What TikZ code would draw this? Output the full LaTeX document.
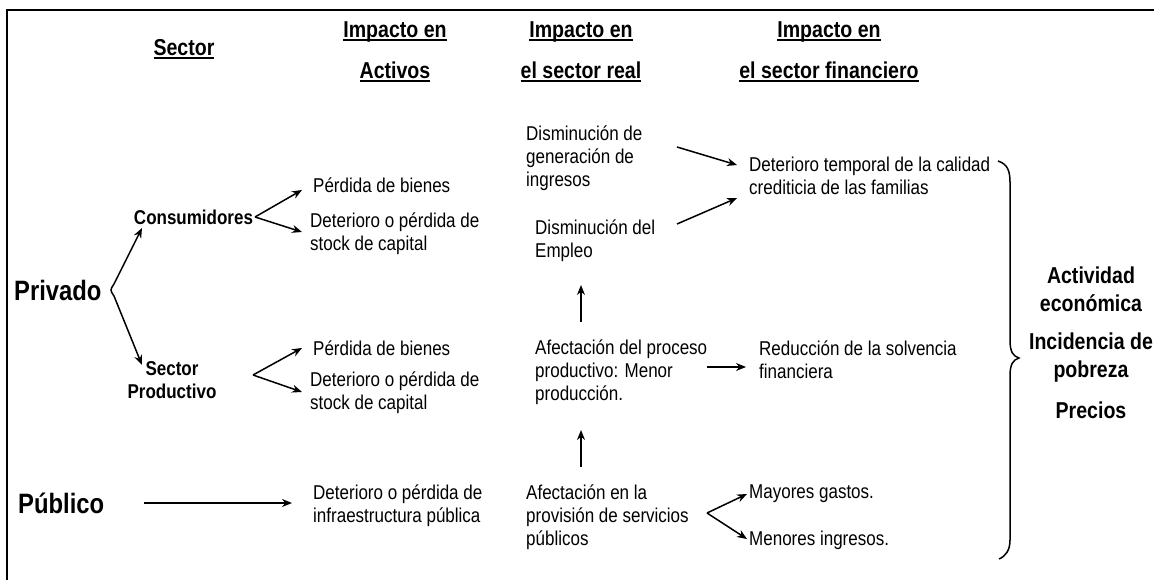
\documentclass[tikz,border=0pt]{standalone}
\usepackage{fontspec}
\setmainfont{Liberation Sans}[FakeStretch=0.85]
\usetikzlibrary{arrows.meta}
\newcommand\myul[1]{\setbox0\hbox{#1}\rlap{\rule[-3pt]{\wd0}{1.6pt}}\box0}
\tikzset{
 body/.style={font=\fontsize{20}{23}\selectfont, inner sep=0pt, align=left, anchor=west},
 sub/.style={font=\bfseries\fontsize{20}{23}\selectfont, inner sep=0pt, align=center},
 head/.style={font=\bfseries\fontsize{23}{27}\selectfont, inner sep=0pt},
 side/.style={font=\bfseries\fontsize{23}{28}\selectfont, inner sep=0pt, align=center},
 big/.style={font=\bfseries\fontsize{28}{32}\selectfont, inner sep=0pt, anchor=west},
 arr/.style={line width=1.5pt, -{Stealth[length=10pt,width=8pt]}},
 plain/.style={line width=1.5pt},
}
\begin{document}
\begin{tikzpicture}[x=1pt,y=-1pt]
\useasboundingbox (0,0) rectangle (1154,580);
\draw[line width=2pt] (1154,10.5) -- (7,10.5) -- (7,580);
% headers
\node[head] (hsec) at (184,49) {\myul{Sector}};
\node[head] (ha1) at (395,32) {\myul{Impacto en}};
\node[head] (ha2) at (395,72) {\myul{Activos}};
\node[head] (hr1) at (581,32) {\myul{Impacto en}};
\node[head] (hr2) at (581,72) {\myul{el sector real}};
\node[head] (hf1) at (829,32) {\myul{Impacto en}};
\node[head] (hf2) at (829,72) {\myul{el sector financiero}};
% sectors
\node[big] (priv) at (14,290) {Privado};
\node[big] (pub) at (18,503) {Público};
\node[sub] (cons) at (193.5,217) {Consumidores};
\node[sub] (sprod) at (172,380.5) {Sector\\Productivo};
% assets
\node[body] (c1a) at (313,185) {Pérdida de bienes};
\node[body] (c1b) at (310,234) {Deterioro o pérdida de\\stock de capital};
\node[body] (p1a) at (313,348) {Pérdida de bienes};
\node[body] (p1b) at (310,393) {Deterioro o pérdida de\\stock de capital};
\node[body] (pu1) at (313,505.5) {Deterioro o pérdida de\\infraestructura pública};
% real sector
\node[body] (r1) at (526,158) {Disminución de\\generación de\\ingresos};
\node[body] (r2) at (535,240.5) {Disminución del\\Empleo};
\node[body] (r3) at (535,372) {Afectación del proceso\\productivo: Menor\\producción.};
\node[body] (r4) at (526,517) {Afectación en la\\provisión de servicios\\públicos};
% financial
\node[body] (f1) at (749,176) {Deterioro temporal de la calidad\\crediticia de las familias};
\node[body] (f2) at (759,360) {Reducción de la solvencia\\financiera};
\node[body] (f3) at (749,494) {Mayores gastos.};
\node[body] (f4) at (749,540) {Menores ingresos.};
% right
\node[side] (s1) at (1091,289) {Actividad\\económica};
\node[side] (s2) at (1091,357.5) {Incidencia de\\pobreza};
\node[side] (s3) at (1091,410) {Precios};
% coordinates
\coordinate (pv) at (111,290);
\coordinate (pvu) at (142,228);
\coordinate (pvd) at (142,365);
\coordinate (cv) at (255,217);
\coordinate (cu) at (302,190);
\coordinate (cd) at (302,232);
\coordinate (sv) at (253,375);
\coordinate (su) at (302,348);
\coordinate (sd) at (302,392);
\coordinate (pa) at (144,503);
\coordinate (pb) at (292,503);
\coordinate (g1a) at (677,147);
\coordinate (g1b) at (737,165);
\coordinate (g2a) at (677,224);
\coordinate (g2b) at (737,198);
\coordinate (u1a) at (581,322);
\coordinate (u1b) at (581,285);
\coordinate (u2a) at (581,467);
\coordinate (u2b) at (581,430);
\coordinate (ra) at (707,367);
\coordinate (rb) at (746,367);
\coordinate (mv) at (707,513);
\coordinate (mu) at (747,494);
\coordinate (md) at (747,539);
% arrows
\draw[plain,{Stealth[length=10pt,width=8pt]}-{Stealth[length=10pt,width=8pt]}] (pvu) -- (114,284) .. controls (110,290) .. (114,296) -- (pvd);
\draw[arr] (cv) -- (cu);
\draw[arr] (cv) -- (cd);
\draw[arr] (sv) -- (su);
\draw[arr] (sv) -- (sd);
\draw[arr] (pa) -- (pb);
\draw[arr] (g1a) -- (g1b);
\draw[arr] (g2a) -- (g2b);
\draw[arr] (u1a) -- (u1b);
\draw[arr] (u2a) -- (u2b);
\draw[arr] (ra) -- (rb);
\draw[arr] (mv) -- (mu);
\draw[arr] (mv) -- (md);
% brace
\draw[plain] (998,161) .. controls (1007,164) and (1010,170) .. (1010,182) -- (1010,340) .. controls (1010,352) and (1013,356) .. (1019,358) .. controls (1013,360) and (1010,364) .. (1010,376) -- (1010,540) .. controls (1010,550) and (1006,556) .. (999,559);
\end{tikzpicture}
\end{document}
